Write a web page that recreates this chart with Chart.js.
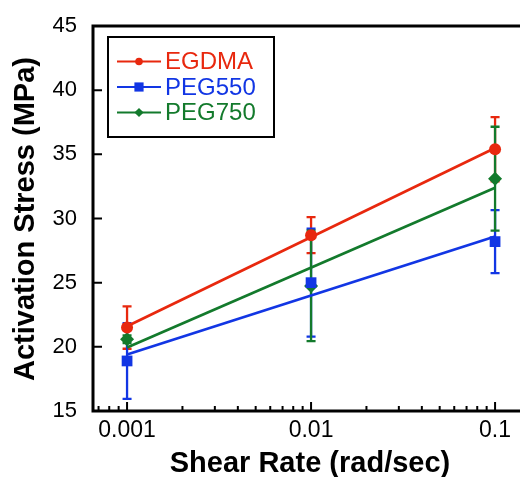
<!DOCTYPE html>
<html>
<head>
<meta charset="utf-8">
<script src="https://cdn.jsdelivr.net/npm/chart.js@4"></script>
<style>
  html, body { margin: 0; padding: 0; background: #fff; overflow: hidden; }
  #wrap { width: 540px; height: 477px; }
</style>
</head>
<body>
<div id="wrap"><canvas id="chart" width="540" height="477"></canvas></div>
<script>
const shearRates = [0.001, 0.01, 0.1];
const egdma = [21.5, 28.7, 35.4];
const egdmaErr = [1.65, 1.4, 2.5];
const peg550 = [18.9, 25.0, 28.2];
const peg550Err = [2.95, 4.2, 2.45];
const peg750 = [20.6, 24.75, 33.1];
const peg750Err = [0.3, 4.3, 4.05];

// straight fit lines, read at both ends
const fitX = [0.001, 0.1];
const egdmaFit = [21.6, 35.5];
const peg550Fit = [19.4, 28.6];
const peg750Fit = [19.95, 32.4];

const xTickValues = [0.001, 0.01, 0.1];
const yTickValues = [15, 20, 25, 30, 35, 40, 45];

const FONT = "'Liberation Sans', Arial, sans-serif";
Chart.defaults.font.family = FONT;

const series = [
  { label: "EGDMA", data: egdma, err: egdmaErr, fit: egdmaFit, color: "#e8280e", style: "circle", r: 6, lr: 3.8 },
  { label: "PEG550", data: peg550, err: peg550Err, fit: peg550Fit, color: "#1236e4", style: "rect", r: 7.6, lr: 4.6 },
  { label: "PEG750", data: peg750, err: peg750Err, fit: peg750Fit, color: "#137a2c", style: "rectRot", r: 7, lr: 4.6 }
];

const datasets = [];
series.forEach(s => {
  datasets.push({
    label: s.label,
    data: shearRates.map((x, i) => ({ x: x, y: s.data[i] })),
    showLine: false,
    pointStyle: s.style,
    pointRadius: s.r,
    pointHoverRadius: s.r,
    backgroundColor: s.color,
    borderColor: s.color,
    borderWidth: 0,
    order: 0
  });
  datasets.push({
    label: s.label + " fit",
    data: fitX.map((x, i) => ({ x: x, y: s.fit[i] })),
    showLine: true,
    pointRadius: 0,
    borderColor: s.color,
    borderWidth: 2.7,
    order: 1
  });
});

function drawMarker(ctx, style, x, y, r, color) {
  ctx.fillStyle = color;
  ctx.beginPath();
  if (style === "circle") {
    ctx.arc(x, y, r, 0, Math.PI * 2);
  } else if (style === "rect") {
    ctx.rect(x - r, y - r, 2 * r, 2 * r);
  } else {
    ctx.moveTo(x - r, y);
    ctx.lineTo(x, y - r);
    ctx.lineTo(x + r, y);
    ctx.lineTo(x, y + r);
    ctx.closePath();
  }
  ctx.fill();
}

const errorBars = {
  id: "errorBars",
  beforeDatasetsDraw(chart) {
    const ctx = chart.ctx;
    const xs = chart.scales.x, ys = chart.scales.y;
    ctx.save();
    ctx.lineWidth = 2.3;
    series.forEach(s => {
      ctx.strokeStyle = s.color;
      shearRates.forEach((x, i) => {
        const px = xs.getPixelForValue(x);
        const top = ys.getPixelForValue(s.data[i] + s.err[i]);
        const bot = ys.getPixelForValue(s.data[i] - s.err[i]);
        ctx.beginPath();
        ctx.moveTo(px, top); ctx.lineTo(px, bot);
        ctx.moveTo(px - 4.5, top); ctx.lineTo(px + 4.5, top);
        ctx.moveTo(px - 4.5, bot); ctx.lineTo(px + 4.5, bot);
        ctx.stroke();
      });
    });
    ctx.restore();
  }
};

const frame = {
  id: "frame",
  afterDraw(chart) {
    const ctx = chart.ctx;
    const a = chart.chartArea;
    const xs = chart.scales.x, ys = chart.scales.y;
    ctx.save();
    ctx.strokeStyle = "#000";
    ctx.lineWidth = 3;
    ctx.strokeRect(a.left, a.top, a.right - a.left, a.bottom - a.top);

    // inward ticks
    ctx.lineWidth = 2;
    ctx.beginPath();
    yTickValues.forEach(v => {
      const py = ys.getPixelForValue(v);
      ctx.moveTo(a.left, py); ctx.lineTo(a.left + 9, py);
    });
    for (let d = -4; d <= -1; d++) {
      for (let m = 1; m <= 9; m++) {
        const v = m * Math.pow(10, d);
        if (v < xs.min || v > xs.max) continue;
        const px = xs.getPixelForValue(v);
        ctx.moveTo(px, a.bottom); ctx.lineTo(px, a.bottom - (m === 1 ? 9 : 5));
      }
    }
    ctx.stroke();

    // titles
    ctx.fillStyle = "#000";
    ctx.font = "bold 29px " + FONT;
    ctx.textAlign = "center";
    ctx.textBaseline = "alphabetic";
    ctx.fillText("Shear Rate (rad/sec)", 310, 471.5);
    ctx.translate(34, 219);
    ctx.rotate(-Math.PI / 2);
    ctx.fillText("Activation Stress (MPa)", 0, 0);
    ctx.restore();

    // legend
    ctx.save();
    ctx.lineWidth = 2;
    ctx.strokeStyle = "#000";
    ctx.strokeRect(108, 37, 166, 100);
    ctx.font = "24px " + FONT;
    ctx.textAlign = "left";
    ctx.textBaseline = "middle";
    series.forEach((s, i) => {
      const y = 61.5 + i * 25.5;
      ctx.strokeStyle = s.color;
      ctx.lineWidth = 2.2;
      ctx.beginPath();
      ctx.moveTo(117, y); ctx.lineTo(161, y);
      ctx.stroke();
      drawMarker(ctx, s.style, 139, y, s.lr, s.color);
      ctx.fillStyle = s.color;
      ctx.fillText(s.label, 165, y + 1);
    });
    ctx.restore();
  }
};

new Chart(document.getElementById("chart"), {
  type: "scatter",
  data: { datasets: datasets },
  options: {
    responsive: false,
    devicePixelRatio: 1,
    animation: false,
    layout: { padding: { top: 26, right: 12, left: 0, bottom: 0 } },
    plugins: { legend: { display: false }, tooltip: { enabled: false } },
    scales: {
      x: {
        type: "logarithmic",
        min: 0.000653,
        max: 0.151,
        grid: { display: false },
        border: { display: false },
        afterBuildTicks: s => { s.ticks = xTickValues.map(v => ({ value: v })); },
        afterFit: s => { s.height = 66; },
        ticks: {
          color: "#000",
          font: { size: 23 },
          padding: -2,
          maxRotation: 0,
          autoSkip: false,
          callback: v => String(v)
        }
      },
      y: {
        min: 15,
        max: 45,
        grid: { display: false },
        border: { display: false },
        afterBuildTicks: s => { s.ticks = yTickValues.map(v => ({ value: v })); },
        afterFit: s => { s.width = 93; },
        ticks: { color: "#000", font: { size: 22 }, padding: 8 }
      }
    }
  },
  plugins: [errorBars, frame]
});
</script>
</body>
</html>
